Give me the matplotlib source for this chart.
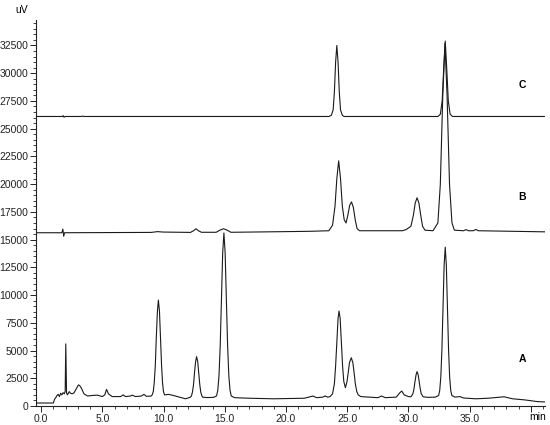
import matplotlib
matplotlib.use("Agg")
import matplotlib.pyplot as plt
from matplotlib.ticker import MultipleLocator

plt.rcParams['font.family'] = ['Liberation Sans', 'DejaVu Sans']

# ---- Trace A (time in min, signal in uV) ----
a_time = [-0.4, 1.0, 1.1, 1.2, 1.3, 1.4, 1.5, 1.6, 1.7, 1.8, 1.9, 1.97, 2.02, 2.08, 2.15, 2.3, 2.4, 2.55,
          2.7, 2.9, 3.05, 3.15, 3.3, 3.5, 3.8, 4.2, 4.6, 5.0, 5.2, 5.35, 5.5, 5.8, 6.5, 6.7, 6.9, 7.3,
          7.45, 7.7, 8.2, 8.4, 8.6, 9.0,
          9.07, 9.16, 9.24, 9.33, 9.41, 9.50, 9.58, 9.67, 9.75, 9.84, 9.92, 10.0, 10.09,
          10.4, 10.8, 11.3, 11.8, 12.1,
          12.19, 12.28, 12.36, 12.45, 12.53, 12.62, 12.70, 12.79, 12.87, 12.96, 13.04, 13.13, 13.21,
          13.6, 14.1,
          14.33, 14.43, 14.53, 14.63, 14.73, 14.83, 14.93, 15.03, 15.13, 15.23, 15.33, 15.43, 15.53,
          15.8, 17.0, 19.0, 21.5, 22.0, 22.2, 22.5, 23.0, 23.2, 23.4, 23.6,
          23.8, 23.95, 24.05, 24.15, 24.25, 24.33, 24.42, 24.52, 24.62, 24.72, 24.85, 24.98, 25.08,
          25.18, 25.33, 25.46, 25.56, 25.66, 25.78, 25.9, 26.1,
          27.5, 27.8, 28.1, 29.0, 29.3, 29.45, 29.65, 30.0,
          30.2, 30.36, 30.45, 30.53, 30.62, 30.7, 30.79, 30.87, 30.96, 31.04, 31.2,
          31.6, 32.2,
          32.46, 32.55, 32.64, 32.73, 32.82, 32.91, 33.0, 33.09, 33.18, 33.27, 33.36, 33.45, 33.54,
          33.8, 34.2, 34.5, 35.5, 36.5, 37.8, 38.5, 39.5, 40.5, 41.2]
a_signal = [270, 270, 600, 750, 950, 1050, 850, 1150, 1000, 1200, 1100, 1300, 5600, 1200, 1000, 1300, 1150, 1100,
            1200, 1600, 1900, 1850, 1600, 1100, 900, 950, 980, 850, 1000, 1500, 1100, 850, 850, 1000, 850, 900,
            980, 850, 900, 1050, 870, 900,
            1000, 1280, 2070, 3670, 6180, 8510, 9550, 8510, 6180, 3670, 2070, 1280, 1000,
            1050, 950, 800, 650, 750,
            790, 910, 1250, 1930, 3010, 4010, 4450, 4010, 3010, 1930, 1250, 910, 790,
            760, 780,
            910, 1420, 2750, 5500, 9810, 13820, 15600, 13820, 9810, 5500, 2750, 1420, 910,
            750, 700, 650, 700, 850, 900, 750, 800, 900, 800, 850,
            1100, 2000, 3600, 5800, 7900, 8560, 7900, 5800, 3600, 2200, 1650, 2200, 3000,
            3900, 4350, 3900, 3000, 2000, 1300, 1000, 850,
            750, 900, 750, 800, 1200, 1350, 1000, 850,
            830, 1100, 1550, 2200, 2820, 3100, 2820, 2200, 1550, 1100, 830,
            780, 800,
            950, 1400, 2630, 5130, 9050, 12700, 14320, 12700, 9050, 5130, 2630, 1400, 950,
            800, 850, 720, 650, 700, 830, 650, 550, 400, 360]

# ---- Trace B ----
b_time = [-0.4, 1.7, 1.78, 1.85, 1.92, 9.0, 9.5, 10.0, 12.2, 12.45, 12.65, 12.85, 13.1, 14.3, 14.6, 14.9,
          15.2, 15.5, 20.0, 22.0, 23.5, 23.8, 24.0, 24.15, 24.3, 24.45, 24.6, 24.75, 24.9, 25.05,
          25.2, 25.35, 25.5, 25.65, 25.8, 26.0, 29.5, 29.8, 30.2, 30.4, 30.55, 30.7, 30.85, 31.0,
          31.15, 31.35, 32.0, 32.4, 32.6, 32.8, 32.98, 33.15, 33.35, 33.55, 33.75, 34.5, 34.7, 34.9,
          35.3, 35.5, 35.7, 41.2]
b_signal = [15620, 15620, 15950, 15300, 15620, 15650, 15720, 15680, 15650, 15800, 15980, 15800, 15660, 15660,
            15850, 15980, 15850, 15660, 15720, 15750, 15800, 16300, 18000, 20500, 22100, 20500, 18000,
            16800, 16500, 17200, 18100, 18400, 17900, 16800, 16000, 15800, 15800, 15900, 16200, 17200,
            18300, 18770, 18300, 17200, 16200, 15850, 15800, 16500, 20000, 28000, 32700, 28000, 20000,
            16500, 15850, 15800, 15900, 15800, 15800, 15920, 15800, 15700]

# ---- Trace C ----
c_time = [-0.4, 1.75, 1.8, 1.88, 1.95, 3.3, 3.4, 3.5, 23.5, 23.7, 23.85, 23.95, 24.05, 24.15, 24.25,
          24.35, 24.45, 24.6, 24.75, 32.4, 32.6, 32.75, 32.88, 33.0, 33.12, 33.25, 33.4, 33.6, 41.2]
c_signal = [26100, 26100, 26180, 26030, 26100, 26100, 26140, 26100, 26100, 26200, 26700, 28300, 31000,
            32500, 31000, 28300, 26700, 26200, 26100, 26100, 26300, 27500, 30500, 32900, 30500,
            27500, 26300, 26100, 26100]

trace_labels = ["A", "B", "C"]
label_time = 39.3
label_signal = [4230, 18830, 28900]

x_ticks = [0, 5, 10, 15, 20, 25, 30, 35, 40]
x_ticklabels = ["0.0", "5.0", "10.0", "15.0", "20.0", "25.0", "30.0", "35.0", ""]
y_ticks = [0, 2500, 5000, 7500, 10000, 12500, 15000, 17500, 20000, 22500, 25000, 27500, 30000, 32500]

fig = plt.figure(figsize=(5.5, 4.25), dpi=100)
ax = fig.add_axes([0.0655, 0.0447, 0.9255, 0.9083])

lc = "#1a1a1a"
ax.plot(a_time, a_signal, color=lc, lw=0.8)
ax.plot(b_time, b_signal, color=lc, lw=0.8)
ax.plot(c_time, c_signal, color=lc, lw=0.8)

for lab, ys in zip(trace_labels, label_signal):
    ax.text(label_time, ys, lab, fontsize=7.5, fontweight="bold", ha="center", va="center")

ax.set_xlim(-0.41, 41.15)
ax.set_ylim(0, 34800)
ax.set_xticks(x_ticks)
ax.set_xticklabels(x_ticklabels)
ax.set_yticks(y_ticks)
ax.set_yticklabels([str(v) for v in y_ticks])
ax.xaxis.set_minor_locator(MultipleLocator(1))
ax.yaxis.set_minor_locator(MultipleLocator(500))
ax.tick_params(which="major", length=4, width=0.7, labelsize=7.5, pad=1.5, colors="#222222")
ax.tick_params(which="minor", length=2, width=0.6, colors="#222222")
for s in ["top", "right"]:
    ax.spines[s].set_visible(False)
for s in ["left", "bottom"]:
    ax.spines[s].set_linewidth(0.8)
    ax.spines[s].set_color("#222222")

fig.text(22 / 550, 1 - 10 / 425, "uV", fontsize=7.5, ha="center", va="center")
fig.text(538 / 550, 1 - 417 / 425, "min", fontsize=7.5, ha="center", va="center")

fig.savefig("out.png", dpi=100)
